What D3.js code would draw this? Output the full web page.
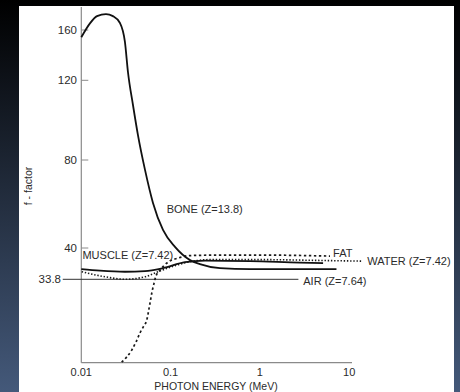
<!DOCTYPE html>
<html>
<head>
<meta charset="utf-8">
<script src="https://cdn.jsdelivr.net/npm/d3@7"></script>
<style>
  html, body { margin: 0; padding: 0; background: #000; }
  svg { display: block; }
  text { font-family: "Liberation Sans", Arial, sans-serif; fill: #2b2b2b; }
</style>
</head>
<body>
<div id="chart"></div>
<script>
// photon energy (MeV) vs f-factor
var boneE = [0.01, 0.0125, 0.015, 0.0189, 0.0226, 0.0271, 0.0308, 0.0333, 0.0379, 0.0431, 0.0517, 0.0635, 0.0822, 0.112, 0.165, 0.213, 0.357, 0.775, 7.2];
var boneF = [154.2, 165.3, 171.1, 172.7, 171.1, 165.6, 150.5, 126.6, 107.6, 92.5, 75.5, 60.5, 48.2, 40.5, 37.6, 36.8, 36.0, 35.8, 35.8];

var muscleE = [0.01, 0.0162, 0.0308, 0.0517, 0.0822, 0.145, 0.243, 0.775, 2.81, 5.1];
var muscleF = [35.8, 35.5, 35.3, 35.4, 36.0, 37.2, 37.5, 37.4, 37.1, 37.0];

var waterE = [0.0101, 0.0184, 0.0308, 0.0517, 0.0722, 0.112, 0.157, 0.276, 1.0, 6.1, 14.2];
var waterF = [35.3, 34.3, 33.8, 34.3, 35.3, 36.5, 37.2, 37.7, 37.7, 37.5, 37.4];

var fatE = [0.0283, 0.0367, 0.041, 0.0454, 0.0495, 0.054, 0.0588, 0.0619, 0.0652, 0.0681, 0.0761, 0.0935, 0.121, 0.165, 0.4, 1.0, 6.1];
var fatF = [17.4, 19.8, 21.4, 23.2, 24.4, 25.7, 29.1, 31.3, 33.0, 34.3, 35.6, 37.2, 38.0, 38.5, 38.6, 38.6, 38.4];

var airE = [0.0062, 2.7];
var airF = [33.8, 33.8];

var xTicks = [0.01, 0.1, 1, 10];
var xTickLabels = ["0.01", "0.1", "1", "10"];
var yTicks = [40, 80, 120, 160];
var yAirTick = 33.8;

var labelNames = ["BONE (Z=13.8)", "MUSCLE (Z=7.42)", "FAT", "WATER (Z=7.42)", "AIR (Z=7.64)"];
var labelE = [0.0904, 0.0103, 6.6, 15.9, 3.06];
var labelF = [55.9, 37.8, 38.2, 36.6, 32.7];

var width = 460, height = 392;

var svg = d3.select("#chart").append("svg")
    .attr("width", width)
    .attr("height", height);

var grad = svg.append("defs").append("linearGradient")
    .attr("id", "bg")
    .attr("x1", 0).attr("y1", 0).attr("x2", 0).attr("y2", 1);
grad.append("stop").attr("offset", "0%").attr("stop-color", "#000");
grad.append("stop").attr("offset", "100%").attr("stop-color", "#44597a");

svg.append("rect").attr("width", width).attr("height", height).attr("fill", "url(#bg)");
svg.append("rect")
    .attr("x", 19).attr("y", 6)
    .attr("width", 435).attr("height", height - 6)
    .attr("fill", "#fff");

// log energy axis, and a broken (piecewise) f-factor axis
var x = d3.scaleLog().domain([0.01, 10]).range([81.3, 349.2]);
var y = d3.scaleLinear()
    .domain([17.3, 33.8, 40, 80, 120, 160, 178.4])
    .range([362.7, 279.3, 248, 160, 80.3, 30, 7]);

var g = svg.append("g");

// axes lines
g.append("line")
    .attr("x1", x(0.01)).attr("x2", x(0.01))
    .attr("y1", y(178.4)).attr("y2", y(17.3))
    .attr("stroke", "#8a8a8a").attr("stroke-width", 1.2);
g.append("line")
    .attr("x1", x(0.01)).attr("x2", 352)
    .attr("y1", y(17.3)).attr("y2", y(17.3))
    .attr("stroke", "#8a8a8a").attr("stroke-width", 1.2);

// y ticks (inward)
g.selectAll(".ytick")
    .data(yTicks)
  .enter().append("line")
    .attr("class", "ytick")
    .attr("x1", x(0.01)).attr("x2", x(0.01) + 7)
    .attr("y1", function(d){return y(d);})
    .attr("y2", function(d){return y(d);})
    .attr("stroke", "#8a8a8a");

g.selectAll(".ylab")
    .data(yTicks.concat([yAirTick]))
  .enter().append("text")
    .attr("class", "ylab")
    .attr("x", function(d){return d === yAirTick ? 61 : 77;})
    .attr("y", function(d){return y(d);})
    .attr("dy", "0.36em")
    .attr("text-anchor", "end")
    .style("font-size", "11.5px")
    .text(function(d){return d;});

g.selectAll(".xlab")
    .data(xTicks)
  .enter().append("text")
    .attr("class", "xlab")
    .attr("x", function(d){return x(d);})
    .attr("y", 376)
    .attr("text-anchor", "middle")
    .style("font-size", "11px")
    .text(function(d,i){return xTickLabels[i];});

g.append("text")
    .attr("x", 216).attr("y", 390)
    .attr("text-anchor", "middle")
    .style("font-size", "10.5px")
    .text("PHOTON ENERGY (MeV)");

g.append("text")
    .attr("transform", "translate(32,186) rotate(-90)")
    .attr("text-anchor", "middle")
    .style("font-size", "10.5px")
    .text("f - factor");

var line = d3.line()
    .x(function(d){return x(d[0]);})
    .y(function(d){return y(d[1]);})
    .curve(d3.curveMonotoneX);

var zip = function(a, b){ return a.map(function(d,i){return [d, b[i]];}); };

var series = [
  {pts: zip(airE, airF), width: 1, dash: null, color: "#333"},
  {pts: zip(fatE, fatF), width: 1.7, dash: "2.4,2.6", color: "#1a1a1a"},
  {pts: zip(waterE, waterF), width: 1.6, dash: "1.4,1.8", color: "#1a1a1a"},
  {pts: zip(muscleE, muscleF), width: 1.8, dash: null, color: "#111"},
  {pts: zip(boneE, boneF), width: 1.8, dash: null, color: "#111"}
];

g.selectAll(".curve")
    .data(series)
  .enter().append("path")
    .attr("class", "curve")
    .attr("d", function(d){return line(d.pts);})
    .attr("fill", "none")
    .attr("stroke", function(d){return d.color;})
    .attr("stroke-width", function(d){return d.width;})
    .attr("stroke-dasharray", function(d){return d.dash;});

g.selectAll(".clab")
    .data(labelNames)
  .enter().append("text")
    .attr("class", "clab")
    .attr("x", function(d,i){return x(labelE[i]);})
    .attr("y", function(d,i){return y(labelF[i]);})
    .style("font-size", "11px")
    .text(function(d){return d;});
</script>
</body>
</html>
